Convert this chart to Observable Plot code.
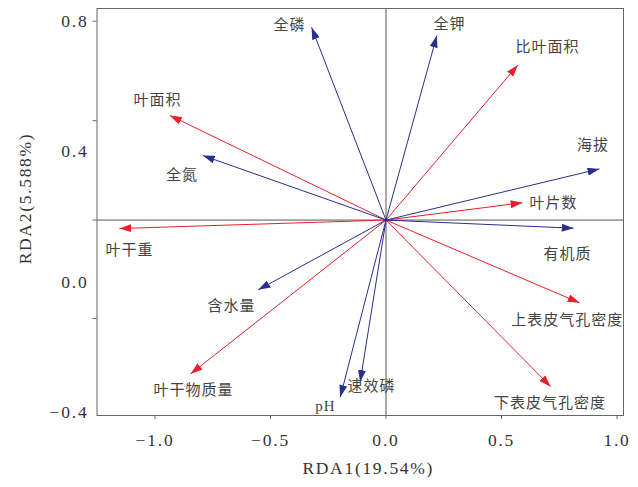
<!DOCTYPE html>
<html><head><meta charset="utf-8">
<script src="https://cdn.jsdelivr.net/npm/d3@7"></script>
<script src="https://cdn.jsdelivr.net/npm/@observablehq/plot@0.6"></script>
<style>
body{margin:0;background:#fff}
g[aria-label="text"][font-size="15"] text{letter-spacing:1px}
g[aria-label="text"][font-size="17.5"] text{letter-spacing:1.7px}
g[aria-label="x-axis tick label"] text, g[aria-label="y-axis tick label"] text{letter-spacing:1.8px}
</style>
</head><body><div id="chart"></div>
<script>
// Variables (arrow names) and their group
const names = ["全磷","叶面积","全氮","叶干重","全钾","比叶面积","海拔","叶片数","有机质","上表皮气孔密度","下表皮气孔密度","含水量","叶干物质量","速效磷","pH"];
const groups = ["env","trait","env","trait","env","trait","env","trait","env","trait","trait","env","trait","env","env"];
// Arrow tip coordinates (RDA1, RDA2)
const rda1 = [-0.322,-0.936,-0.793,-1.154,0.220,0.571,0.924,0.591,0.812,0.838,0.713,-0.553,-0.846,-0.112,-0.198];
const rda2 = [0.781,0.511,0.388,0.164,0.756,0.666,0.347,0.243,0.165,-0.064,-0.321,-0.024,-0.282,-0.307,-0.353];
// Label anchor coordinates
const labelRda1 = [-0.418,-0.989,-0.883,-1.110,0.275,0.699,0.896,0.725,0.786,0.784,0.710,-0.669,-0.833,-0.063,-0.262];
const labelRda2 = [0.787,0.557,0.327,0.097,0.790,0.719,0.419,0.242,0.086,-0.118,-0.373,-0.075,-0.333,-0.321,-0.382];
// Origin of arrows (crosshair)
const originRda1 = 0;
const originRda2 = 0.19;
// Ticks
const xTicks = [-1, -0.5, 0, 0.5, 1];
const yTickLabels = [0.8, 0.4, 0, -0.4];
const yTickMarks = [0.8, 0.495, 0.19, -0.112];
const xTitle = "RDA1(19.54%)";
const yTitle = "RDA2(5.588%)";

const colors = {trait: "#e8202a", env: "#2b2e8e"};
const data = names.map((name, i) => ({
  name, group: groups[i],
  x1: originRda1, y1: originRda2, x2: rda1[i], y2: rda2[i],
  lx: labelRda1[i], ly: labelRda2[i]
}));

function triangleHead(color, context) {
  const ns = "http://www.w3.org/2000/svg";
  const doc = (context && context.document) || document;
  const m = doc.createElementNS(ns, "marker");
  m.setAttribute("viewBox", "0 -4 12 8");
  m.setAttribute("refX", "12");
  m.setAttribute("refY", "0");
  m.setAttribute("markerWidth", "12");
  m.setAttribute("markerHeight", "8");
  m.setAttribute("markerUnits", "userSpaceOnUse");
  m.setAttribute("orient", "auto");
  const p = doc.createElementNS(ns, "path");
  p.setAttribute("d", "M0,-4L12,0L0,4Z");
  p.setAttribute("fill", color);
  p.setAttribute("stroke", "none");
  m.appendChild(p);
  return m;
}

function build(useMarker) {
  const arrowMarks = ["trait", "env"].map(g => {
    const sub = data.filter(d => d.group === g);
    return useMarker
      ? Plot.link(sub, {x1: "x1", y1: "y1", x2: "x2", y2: "y2", stroke: colors[g], strokeWidth: 1, markerEnd: triangleHead})
      : Plot.arrow(sub, {x1: "x1", y1: "y1", x2: "x2", y2: "y2", stroke: colors[g], strokeWidth: 1, headLength: 10});
  });
  return Plot.plot({
    width: 638, height: 487,
    marginLeft: 96.5, marginRight: 15, marginTop: 8, marginBottom: 72,
    x: {domain: [-1.251, 1.028]},
    y: {domain: [-0.4095, 0.839]},
    style: {fontFamily: "'Liberation Serif', serif", fontSize: "17.5px", color: "#333", background: "#fff"},
    marks: [
      Plot.ruleX([originRda1], {stroke: "#555", strokeWidth: 1}),
      Plot.ruleY([originRda2], {stroke: "#555", strokeWidth: 1}),
      ...arrowMarks,
      Plot.text(data, {x: "lx", y: "ly", text: "name",
        fontFamily: "'Liberation Serif', 'Noto Sans CJK SC', sans-serif", fontSize: 15, fill: "#444"}),
      Plot.frame({stroke: "#666", strokeWidth: 1}),
      Plot.axisX({ticks: xTicks, tickSize: 4, tickPadding: 14, tickFormat: d3.format(".1f"), label: null, fontSize: 17.5, stroke: "#666", fill: "#333"}),
      Plot.axisY({ticks: yTickLabels, tickSize: 0, tickPadding: 8.5, tickFormat: d3.format(".1f"), label: null, fontSize: 17.5, fill: "#333"}),
      Plot.axisY({ticks: yTickMarks, tickSize: 4, tickFormat: () => "", label: null, stroke: "#666"}),
      Plot.text([xTitle], {frameAnchor: "bottom", textAnchor: "middle", lineAnchor: "middle", dx: 8, dy: 52.5, fontSize: 17.5, fill: "#333"}),
      Plot.text([yTitle], {frameAnchor: "left", textAnchor: "middle", lineAnchor: "middle", rotate: -90, dx: -71.5, dy: -13.5, fontSize: 17.5, fill: "#333"})
    ]
  });
}

let chart;
try { chart = build(true); } catch (e) { console.error(e); chart = build(false); }
document.getElementById("chart").appendChild(chart);
</script>
</body></html>
